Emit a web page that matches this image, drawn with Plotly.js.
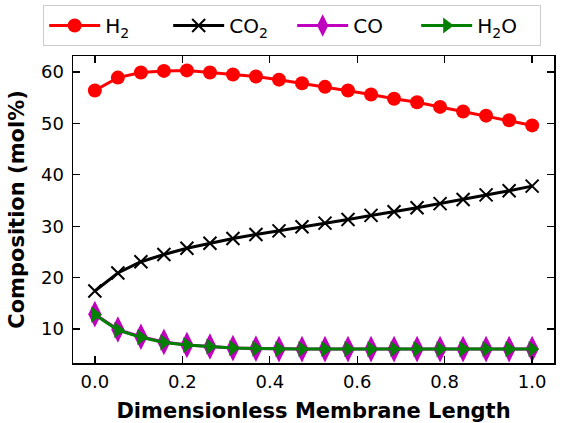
<!DOCTYPE html>
<html>
<head>
<meta charset="utf-8">
<script src="https://cdn.plot.ly/plotly-3.0.1.min.js"></script>
<style>html,body{margin:0;padding:0;background:#fff;}#chart{width:574px;height:423px;}</style>
</head>
<body>
<div id="chart"></div>
<script>
var xPos = [0, 0.0526, 0.1053, 0.1579, 0.2105, 0.2632, 0.3158, 0.3684, 0.4211, 0.4737,
            0.5263, 0.5789, 0.6316, 0.6842, 0.7368, 0.7895, 0.8421, 0.8947, 0.9474, 1.0];
var h2  = [56.4, 58.9, 59.9, 60.2, 60.3, 59.9, 59.5, 59.1, 58.5, 57.8,
           57.1, 56.4, 55.6, 54.8, 54.1, 53.2, 52.3, 51.5, 50.6, 49.6];
var co2 = [17.4, 20.9, 23.1, 24.5, 25.7, 26.7, 27.6, 28.4, 29.1, 29.9,
           30.6, 31.3, 32.1, 32.8, 33.6, 34.4, 35.2, 36.1, 36.9, 37.8];
var co  = [12.9, 9.9, 8.5, 7.5, 6.9, 6.6, 6.3, 6.2, 6.1, 6.1,
           6.1, 6.1, 6.1, 6.1, 6.1, 6.1, 6.1, 6.1, 6.1, 6.1];
var h2o = [12.8, 9.8, 8.4, 7.4, 6.9, 6.6, 6.3, 6.2, 6.1, 6.1,
           6.1, 6.1, 6.1, 6.1, 6.1, 6.1, 6.1, 6.1, 6.1, 6.1];
var names = ['H<sub>2</sub>', 'CO<sub>2</sub>', 'CO', 'H<sub>2</sub>O'];
var xTicks = [0, 0.2, 0.4, 0.6, 0.8, 1.0];
var yTicks = [10, 20, 30, 40, 50, 60];

var traces = [
  {x: xPos, y: h2, name: names[0], mode: 'lines+markers',
   line: {color: '#ff0000', width: 3},
   marker: {symbol: 'circle', size: 14, color: '#ff0000'}},
  {x: xPos, y: co2, name: names[1], mode: 'lines+markers',
   line: {color: '#000000', width: 3},
   marker: {symbol: 'x-thin', size: 13, color: '#000000', line: {color: '#000000', width: 2}}},
  {x: xPos, y: co, name: names[2], mode: 'lines+markers',
   line: {color: '#bf00bf', width: 3},
   marker: {symbol: 'diamond-tall', size: 19, color: '#bf00bf'}},
  {x: xPos, y: h2o, name: names[3], mode: 'lines+markers',
   line: {color: '#008000', width: 3},
   marker: {symbol: 'triangle-right', size: 14, color: '#008000'}}
];

var axisCommon = {
  showgrid: false, zeroline: false, showline: true, linecolor: '#000', linewidth: 1.5,
  mirror: 'ticks', ticks: 'inside', ticklen: 7, tickwidth: 1.3, tickcolor: '#000',
  tickfont: {family: 'DejaVu Sans', size: 18, color: '#000'}, automargin: false
};

var layout = {
  width: 574, height: 423,
  margin: {l: 73, r: 20, t: 56, b: 60, autoexpand: false},
  paper_bgcolor: '#fff', plot_bgcolor: '#fff',
  font: {family: 'DejaVu Sans', color: '#000'},
  xaxis: Object.assign({}, axisCommon, {
    range: [-0.05, 1.05], tickvals: xTicks, tickformat: '.1f', ticklabelstandoff: 2,
    title: {text: '<b>Dimensionless Membrane Length</b>', font: {family: 'DejaVu Sans', size: 21, color: '#000'}, standoff: 12}
  }),
  yaxis: Object.assign({}, axisCommon, {
    range: [3.4, 63.1], tickvals: yTicks, ticklabelstandoff: 4,
    title: {text: '<b>Composition (mol%)</b>', font: {family: 'DejaVu Sans', size: 21, color: '#000'}, standoff: 10}
  }),
  showlegend: true,
  legend: {
    orientation: 'h', x: -0.062, xanchor: 'left', y: 1.166, yanchor: 'top',
    bgcolor: '#fff', bordercolor: '#cccccc', borderwidth: 1,
    font: {family: 'DejaVu Sans', size: 20, color: '#000'},
    entrywidth: 58, itemwidth: 51
  }
};

Plotly.newPlot('chart', traces, layout, {displayModeBar: false, staticPlot: true});
</script>
</body>
</html>
